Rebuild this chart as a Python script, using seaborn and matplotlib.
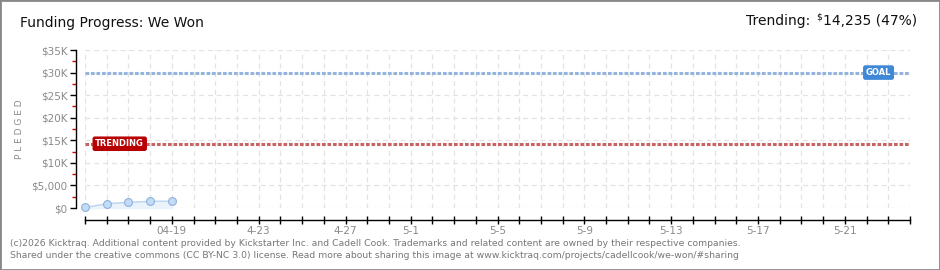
import matplotlib
matplotlib.use("Agg")
import matplotlib.pyplot as plt
import seaborn as sns
import numpy as np
import pandas as pd
from matplotlib.ticker import FixedLocator

# ---- data ----
days = [0, 1, 2, 3, 4]
pledged = [120, 950, 1250, 1480, 1520]
goal = 30000
trending = 14235
tick_days = [4, 8, 12, 15, 19, 23, 27, 31, 35]
tick_labels = ["04-19", "4-23", "4-27", "5-1", "5-5", "5-9", "5-13", "5-17", "5-21"]
y_ticks = [0, 5000, 10000, 15000, 20000, 25000, 30000, 35000]
y_labels = ["$0", "$5,000", "$10K", "$15K", "$20K", "$25K", "$30K", "$35K"]
n_days = 38

sns.set_theme(style="white")
plt.rcParams['font.family'] = ['DejaVu Sans']

W, H = 940, 270
fig = plt.figure(figsize=(9.4, 2.7), dpi=100)
fig.patch.set_facecolor("white")

ax = fig.add_axes([85 / W, (H - 208) / H, (910 - 85) / W, (208 - 50) / H])
ax.set_xlim(0, n_days)
ax.set_ylim(0, 35000)

df = pd.DataFrame({"day": days, "pledged": pledged})

# grid
for d in range(0, n_days + 1):
    ax.axvline(d, color="#e3e3e3", lw=0.9, ls=(0, (4, 3)), zorder=0)
for v in y_ticks:
    ax.axhline(v, color="#e3e3e3", lw=0.9, ls=(0, (4, 3)), zorder=0)

# area + line + points
ax.fill_between(days, pledged, 0, color="#eaf2fb", zorder=1)
sns.lineplot(data=df, x="day", y="pledged", ax=ax, color="#b9d4f1", lw=1, zorder=2)
sns.scatterplot(data=df, x="day", y="pledged", ax=ax, s=32, color="#c2dbf7",
                edgecolor="#8fb2dc", linewidth=0.8, zorder=3)
for c in ax.collections:
    c.set_clip_on(False)

# goal and trending lines
ax.axhline(goal, color="#94b4de", lw=2.2, ls=(0, (1.2, 0.6)), zorder=2)
ax.axhline(trending, color="#c96464", lw=2.2, ls=(0, (1.2, 0.6)), zorder=2)

ax.text(36.55, goal, "GOAL", color="white", fontsize=6, fontweight="bold",
        ha="center", va="center", zorder=5,
        bbox=dict(boxstyle="round,pad=0.25,rounding_size=0.2", fc="#3f88d8", ec="#3f88d8"))
ax.text(1.6, trending, "TRENDING", color="white", fontsize=6, fontweight="bold",
        ha="center", va="center", zorder=5,
        bbox=dict(boxstyle="round,pad=0.25,rounding_size=0.2", fc="#b80000", ec="#b80000"))

# axes styling
for s in ["top", "right"]:
    ax.spines[s].set_visible(False)
ax.spines["left"].set_position(("outward", 6.5))
ax.spines["bottom"].set_position(("outward", 8.6))
ax.spines["left"].set_color("black")
ax.spines["bottom"].set_color("black")
ax.spines["left"].set_linewidth(1)
ax.spines["bottom"].set_linewidth(1)

ax.yaxis.set_major_locator(FixedLocator(y_ticks))
ax.set_yticklabels(y_labels)
ax.yaxis.set_minor_locator(FixedLocator([2500 + 5000 * i for i in range(7)]))
ax.tick_params(axis="y", which="major", direction="out", length=4, width=1,
               color="black", labelsize=7.5, labelcolor="#8a8a8a", pad=2, left=True)
ax.tick_params(axis="y", which="minor", direction="out", length=3, width=1,
               color="#dd0000", left=True)

ax.xaxis.set_major_locator(FixedLocator(list(range(0, n_days + 1))))
lab = [""] * (n_days + 1)
for d, l in zip(tick_days, tick_labels):
    lab[d] = l
ax.set_xticklabels(lab)
ax.tick_params(axis="x", which="major", direction="inout", length=6, width=1,
               color="black", labelsize=7.5, labelcolor="#8a8a8a", pad=1, bottom=True)
ax.set_xlabel("")
ax.set_ylabel("P L E D G E D", fontsize=6.5, color="#8a8a8a")
ax.yaxis.set_label_coords(-0.074, 0.5)

# texts
fig.text(20 / W, 1 - 23 / H, "Funding Progress: We Won", fontsize=10, color="#111",
         ha="left", va="center")
t1 = fig.text(746 / W, 1 - 21 / H, "Trending: ", fontsize=10, color="#111",
              ha="left", va="center")
t2 = fig.text(0, 0, "$", fontsize=6.5, color="#111", ha="left", va="center")
t3 = fig.text(0, 0, "14,235 (47%)", fontsize=10, color="#111", ha="left", va="center")
fig.canvas.draw()
r = fig.canvas.get_renderer()
bb1 = t1.get_window_extent(r)
t2.set_position((bb1.x1 / W + 2 / W, 1 - 17 / H))
fig.canvas.draw()
bb2 = t2.get_window_extent(r)
t3.set_position((bb2.x1 / W + 1 / W, 1 - 21 / H))

fig.text(10 / W, 1 - 243 / H,
         "(c)2026 Kicktraq. Additional content provided by Kickstarter Inc. and Cadell Cook. "
         "Trademarks and related content are owned by their respective companies.",
         fontsize=6.7, color="#777", ha="left", va="center")
fig.text(10 / W, 1 - 256 / H,
         "Shared under the creative commons (CC BY-NC 3.0) license. Read more about sharing "
         "this image at www.kicktraq.com/projects/cadellcook/we-won/#sharing",
         fontsize=6.7, color="#777", ha="left", va="center")

# figure border
fig.add_artist(plt.Rectangle((0, 0), 1, 1, transform=fig.transFigure, fill=False,
                             ec="#888888", lw=2))

fig.savefig("out.png", dpi=100)
